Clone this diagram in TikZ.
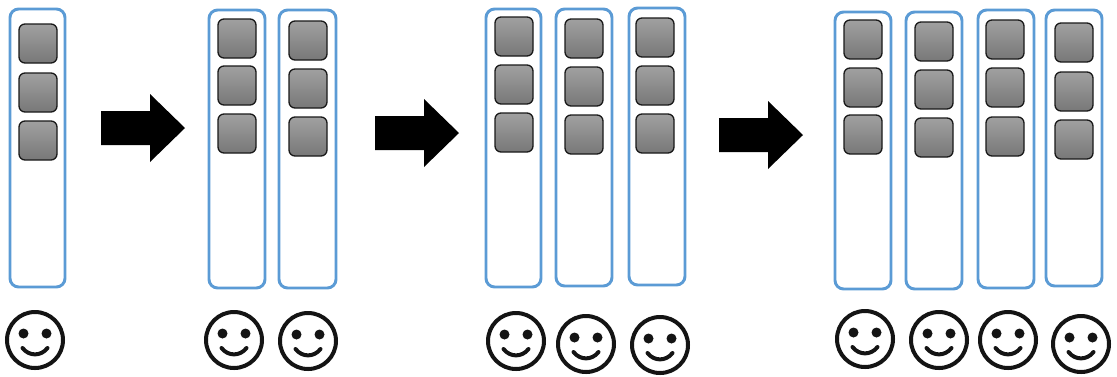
\documentclass[tikz,border=0pt]{standalone}
\tikzset{
  colbox/.style={draw=colblue,line width=2.2pt,rounded corners=6.5pt,fill=white},
  tile/.style={draw=black!90,line width=1pt,rounded corners=4.5pt,top color=tiletop,bottom color=tilebot},
  bigarrow/.style={fill=black,draw=none},
  face/.style={line width=3pt,draw=black!92,line cap=round}
}
\definecolor{colblue}{HTML}{5B9BD5}
\definecolor{tiletop}{HTML}{A0A0A0}
\definecolor{tilebot}{HTML}{787878}
\newcommand{\lane}[8]{% left top right bottom tile-left y1 y2 y3
  \draw[colbox] (#1,#2) rectangle (#3,#4);
  \draw[tile] (#5,#6) rectangle ++(38,39);
  \draw[tile] (#5,#7) rectangle ++(38,39);
  \draw[tile] (#5,#8) rectangle ++(38,39);
}
\newcommand{\happyface}[2]{%
  \begin{scope}[shift={(#1,#2)}]
    \draw[face] (0,0) circle [radius=28];
    \fill[black!92] (-11.5,-6.5) circle [radius=5];
    \fill[black!92] (11.5,-6.5) circle [radius=5];
    \draw[face] (-12.5,8) .. controls (-6,16.5) and (6,16.5) .. (12.5,8);
  \end{scope}
}
\newcommand{\pointer}[2]{% left x, centre y
  \fill[bigarrow] (#1,#2-17) -- ++(49,0) -- ++(0,-17) -- (#1+84,#2) -- (#1+49,#2+34) -- ++(0,-17) -- (#1,#2+17) -- cycle;
}
\begin{document}
\begin{tikzpicture}[x=0.75pt,y=-0.75pt]
\useasboundingbox (0,0) rectangle (1117,376);
\lane{10}{9}{65}{287}{19}{24}{73}{121}
\lane{209}{10}{265}{288}{218}{19}{66}{114}
\lane{279}{10}{336}{288}{289}{21}{69}{117}
\lane{486}{9}{541}{287}{495}{17}{65}{113}
\lane{556}{9}{612}{286}{565}{19}{67}{115}
\lane{629}{8}{685}{285}{636}{18}{66}{114}
\lane{835}{12}{891}{289}{844}{20}{68}{115}
\lane{906}{12}{962}{289}{915}{22}{70}{118}
\lane{978}{10}{1034}{288}{986}{20}{68}{117}
\lane{1046}{10}{1102}{286}{1055}{23}{72}{120}
\pointer{101}{128}
\pointer{375}{133}
\pointer{719}{135}
\happyface{35}{340}
\happyface{234}{340}
\happyface{308}{341}
\happyface{516}{341}
\happyface{586}{344}
\happyface{660}{345}
\happyface{865}{339}
\happyface{939}{340}
\happyface{1008}{340}
\happyface{1081}{344}
\end{tikzpicture}
\end{document}
